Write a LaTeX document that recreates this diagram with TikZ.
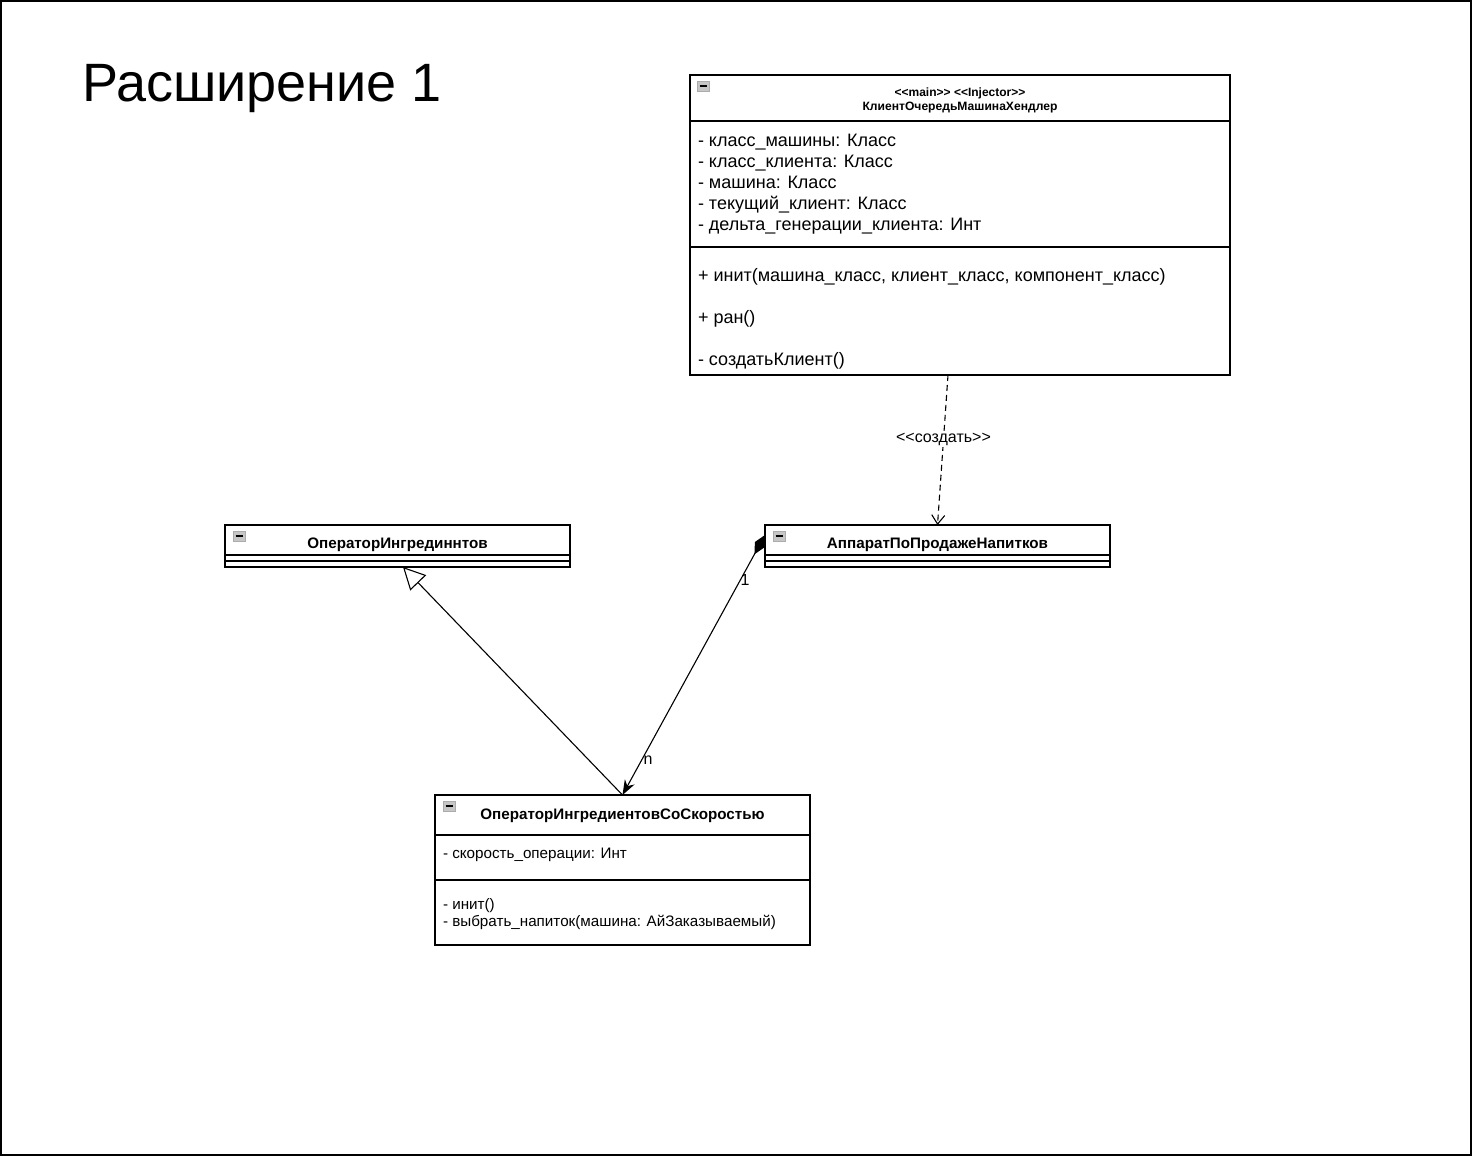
\documentclass[tikz,border=0pt]{standalone}
\usepackage{fontspec}
\setmainfont{Liberation Sans}
\usetikzlibrary{arrows.meta}
\newcommand{\dlt}{<\kern0pt<}
\newcommand{\dgt}{>\kern0pt>}
\begin{document}
\begin{tikzpicture}[x=1pt,y=-1pt,
  every node/.style={inner sep=0pt,outer sep=0pt},
  box/.style={draw,line width=1.2pt,anchor=north west},
  sep/.style={line width=1.2pt},
  clsname/.style={font=\bfseries\fontsize{15.2}{17}\selectfont,anchor=base},
  attr/.style={font=\fontsize{18}{21}\selectfont,anchor=base west},
  sattr/.style={font=\fontsize{15.2}{17}\selectfont,anchor=base west},
  lbl/.style={font=\fontsize{16}{18}\selectfont},
  conn/.style={line width=1.1pt},
  collapse/.pic={\fill[gray!45,draw=gray!65,line width=0.6pt] (0,0) rectangle (12,10);
                 \draw[line width=1.2pt] (2.5,5) -- (9.5,5);}
]
\useasboundingbox (0,0) rectangle (1472,1156);
\draw[line width=1.2pt] (1,1) rectangle (1471,1155);

\node[font=\fontsize{54}{60}\selectfont,anchor=base west] (title) at (82,101) {Расширение 1};

% main class
\node[box,minimum width=540pt,minimum height=300pt] (main) at (690,75) {};
\draw[sep] (690,121) -- (1230,121);
\draw[sep] (690,247) -- (1230,247);
\pic at (697,81) {collapse};
\node[font=\bfseries\fontsize{12}{14}\selectfont,anchor=base] (mst) at (960,96) {\dlt main\dgt{} \dlt Injector\dgt};
\node[font=\bfseries\fontsize{12.1}{14}\selectfont,anchor=base] (mname) at (960,110.5) {КлиентОчередьМашинаХендлер};
\node[attr] (ma1) at (698,146.5) {- класс\_машины: Класс};
\node[attr] (ma2) at (698,167.5) {- класс\_клиента: Класс};
\node[attr] (ma3) at (698,188.5) {- машина: Класс};
\node[attr] (ma4) at (698,209.5) {- текущий\_клиент: Класс};
\node[attr] (ma5) at (698,230.5) {- дельта\_генерации\_клиента: Инт};
\node[attr] (mm1) at (698,281.5) {+ инит(машина\_класс, клиент\_класс, компонент\_класс)};
\node[attr] (mm2) at (698,323.5) {+ ран()};
\node[attr] (mm3) at (698,365.5) {- создатьКлиент()};

% OperatorIngredinntov
\node[box,minimum width=345pt,minimum height=42pt] (op) at (225,525) {};
\draw[sep] (225,555) -- (570,555);
\draw[sep] (225,561) -- (570,561);
\pic at (233,531) {collapse};
\node[clsname] (opname) at (397.5,548.5) {ОператорИнгрединнтов};

% Apparat
\node[box,minimum width=345pt,minimum height=42pt] (app) at (765,525) {};
\draw[sep] (765,555) -- (1110,555);
\draw[sep] (765,561) -- (1110,561);
\pic at (773,531) {collapse};
\node[clsname] (appname) at (937.5,548.5) {АппаратПоПродажеНапитков};

% Sub class
\node[box,minimum width=375pt,minimum height=150pt] (sub) at (435,795) {};
\draw[sep] (435,835) -- (810,835);
\draw[sep] (435,880) -- (810,880);
\pic at (443,801) {collapse};
\node[clsname] (subname) at (622.5,819.5) {ОператорИнгредиентовСоСкоростью};
\node[sattr] (sa1) at (443,858.5) {- скорость\_операции: Инт};
\node[sattr] (sm1) at (443,909.5) {- инит()};
\node[sattr] (sm2) at (443,926.5) {- выбрать\_напиток(машина: АйЗаказываемый)};

% connectors
\draw[conn,dash pattern=on 6pt off 4pt,-{Straight Barb[length=9pt,width=13pt]}]
  ([xshift=-12pt]main.south) -- (app.north)
  node[lbl,fill=white,inner sep=1pt,pos=0.43] (create) {\dlt создать\dgt};
\draw[conn,-{Triangle[open,length=22pt,width=22pt,fill=white]}]
  (sub.north) -- ([xshift=5.5pt]op.south);
\draw[conn,{Diamond[length=22pt,width=11pt]}-{Stealth[length=15pt,width=11pt]}]
  ([yshift=-10pt]app.north west) -- (sub.north);
\node[lbl] (one) at (745,580) {1};
\node[lbl] (nn) at (648,760) {n};
\end{tikzpicture}
\end{document}
